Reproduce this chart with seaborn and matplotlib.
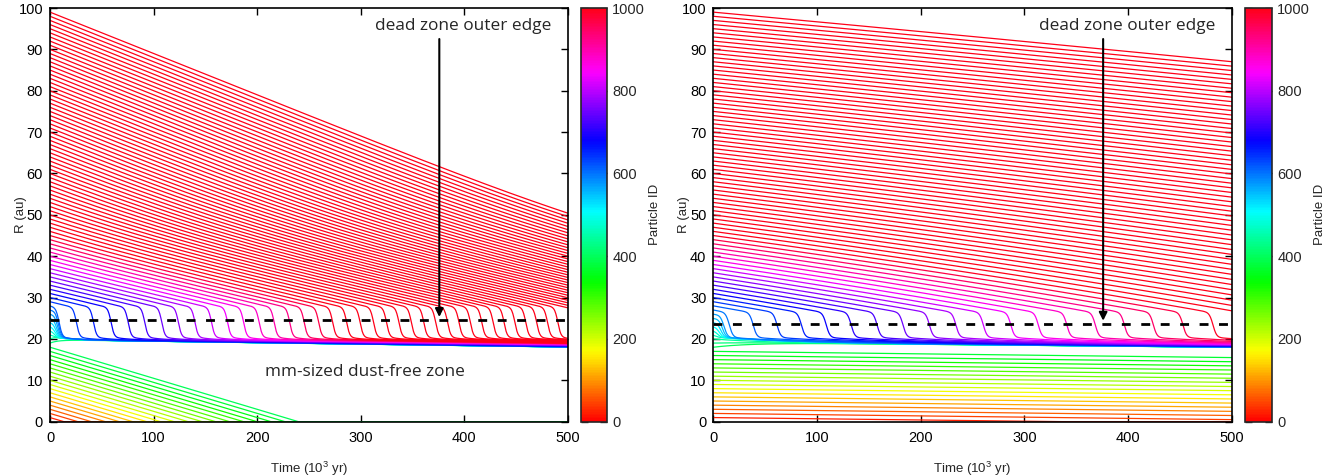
import numpy as np
import pandas as pd
import matplotlib
matplotlib.use("Agg")
import matplotlib.pyplot as plt
import seaborn as sns
from matplotlib.cm import ScalarMappable
from matplotlib.colors import Normalize

# ---------------- data ----------------
r_init = list(range(1, 100))                      # initial radius of each plotted particle (au)
particle_id = [22 * k for k in range(1, 46)] + [1000] * 54   # colour value of each line (Particle ID)
time_kyr = np.linspace(0, 500, 1001)              # time grid (10^3 yr)

# left panel readings
left_edge = 24.5          # dead zone outer edge (au)
left_inner_zero_t = 240.0 # innermost-drifting line (R0=18) reaches 0 at this time
# right panel readings
right_edge = 23.6

cbar_ticks = [0, 200, 400, 600, 800, 1000]
x_ticks = [0, 100, 200, 300, 400, 500]
y_ticks = list(range(0, 101, 10))

left_par = dict(inner_max=18, inner_speed=18.0 / left_inner_zero_t, band_top=19.5,
                band_start=19.8, band_drift=0.0035, band_entry=20.5, settle=15.0,
                settle_inner=8.0, floor=27.5, soft=0.6, delay=0.0, w=3.0, early_a=0.8,
                speed=lambda R: 0.058 + 0.042 / (1 + np.exp(-(R - 48.0) / 6.0)))
right_par = dict(inner_max=17, inner_speed=0.003, band_top=20.5,
                 band_start=19.2, band_drift=0.0024, band_entry=20.4, settle=60.0,
                 settle_inner=40.0, floor=26.4, soft=0.8, delay=2.0, w=3.5, early_a=1.5,
                 speed=lambda R: 0.231 / np.sqrt(np.maximum(R, 1.0)))


def softplus(x, k):
    return k * np.logaddexp(0, x / k)


def trajectories(p):
    t = time_kyr
    dt = t[1] - t[0]
    r0 = np.array(r_init, dtype=float)
    P = np.empty((len(r0), len(t)))
    P[:, 0] = r0
    for n in range(1, len(t)):
        P[:, n] = P[:, n - 1] - p['speed'](P[:, n - 1]) * dt
    frames = []
    for i, (r, pid) in enumerate(zip(r0, particle_id)):
        if r <= p['inner_max']:
            R = np.maximum(r - p['inner_speed'] * t, 0.0)
        elif r < p['band_top']:
            Bf = p['band_start'] - p['band_drift'] * t
            R = Bf + (r - Bf) * np.exp(-t / p['settle_inner'])
        else:
            early = p['early_a'] * (r - p['band_top']) + 2.0
            if r < p['floor']:
                f = r - 0.3
                k = p['soft']
                Ps = f + softplus(P[i] - f, k) - (softplus(r - f, k) - (r - f))
                tm = early
            else:
                Ps = P[i]
                hit = P[i] <= p['floor']
                tm = t[np.argmax(hit)] + p['delay'] if hit.any() else 1e9
                tm = max(tm, early)
            dtc = np.maximum(t - tm, 0.0)
            Bf = p['band_start'] - p['band_drift'] * dtc
            B = Bf + (p['band_entry'] - Bf) * np.exp(-dtc / p['settle'])
            s = 0.5 * (1 - np.tanh((t - tm) / p['w']))
            R = B + (Ps - B) * s
        frames.append(pd.DataFrame({'t': t, 'R': R, 'pid': pid, 'line': i}))
    return pd.concat(frames, ignore_index=True)


sns.set_theme(style="ticks")
plt.rcParams['font.family'] = ['Liberation Sans', 'DejaVu Sans']
plt.rcParams['mathtext.fontset'] = 'custom'
plt.rcParams['mathtext.rm'] = 'Liberation Sans'
plt.rcParams['mathtext.it'] = 'Liberation Sans:italic'

W, H = 1341, 475
fig = plt.figure(figsize=(W / 100, H / 100), dpi=100)

def fx(px):
    return px / W

ybot = 1 - 421.7 / H
hgt = (421.7 - 8) / H
ax_l = fig.add_axes([fx(50), ybot, fx(517.7), hgt])
cax_l = fig.add_axes([fx(580.7), ybot, fx(26), hgt])
ax_r = fig.add_axes([fx(713.3), ybot, fx(518.4), hgt])
cax_r = fig.add_axes([fx(1245), ybot, fx(26.7), hgt])

norm = Normalize(0, 1000)
ann_font = dict(family=['Open Sans', 'DejaVu Sans'], fontsize=12.4)

for ax, cax, par, edge, ylab_x in [(ax_l, cax_l, left_par, left_edge, -0.044),
                                   (ax_r, cax_r, right_par, right_edge, -0.045)]:
    df = trajectories(par)
    sns.lineplot(data=df, x='t', y='R', hue='pid', units='line', estimator=None, sort=False,
                 palette='hsv', hue_norm=(0, 1000), legend=False, linewidth=0.9, ax=ax)
    ax.set_xlim(0, 500)
    ax.set_ylim(0, 100)
    ax.set_xticks(x_ticks)
    ax.set_yticks(y_ticks)
    ax.tick_params(direction='in', length=5, width=1, top=True, right=True,
                   labelsize=10.5, colors='black')
    ax.tick_params(axis='x', pad=7)
    ax.tick_params(axis='y', pad=5)
    for sp in ax.spines.values():
        sp.set_linewidth(1.2)
        sp.set_color('black')
    ax.set_xlabel('Time (10$^{3}$ yr)', fontsize=9.5, labelpad=10)
    ax.set_ylabel('R (au)', fontsize=9.5)
    ax.yaxis.set_label_coords(ylab_x, 0.5)
    ax.axhline(edge, color='black', lw=2, ls=(0, (3.2, 3.8)), zorder=5)
    ax.text(484, 95.7, 'dead zone outer edge', ha='right', va='center', **ann_font)
    ax.annotate('', xy=(376, edge + 0.8), xytext=(376, 92.5),
                arrowprops=dict(arrowstyle='-|>', color='black', lw=1.5,
                                mutation_scale=12, shrinkA=0, shrinkB=0), zorder=6)

    sm = ScalarMappable(norm=norm, cmap='hsv')
    cb = fig.colorbar(sm, cax=cax)
    cb.set_ticks(cbar_ticks)
    cb.outline.set_linewidth(1.2)
    cax.tick_params(direction='in', length=5, width=1, left=True, right=True,
                    labelleft=False, labelright=True, labelsize=10.5, pad=4)
    cb.set_label('Particle ID', fontsize=9.5, labelpad=3)

ax_l.text(304, 12, 'mm-sized dust-free zone', ha='center', va='center', **ann_font)

fig.savefig('out.png', dpi=100)
